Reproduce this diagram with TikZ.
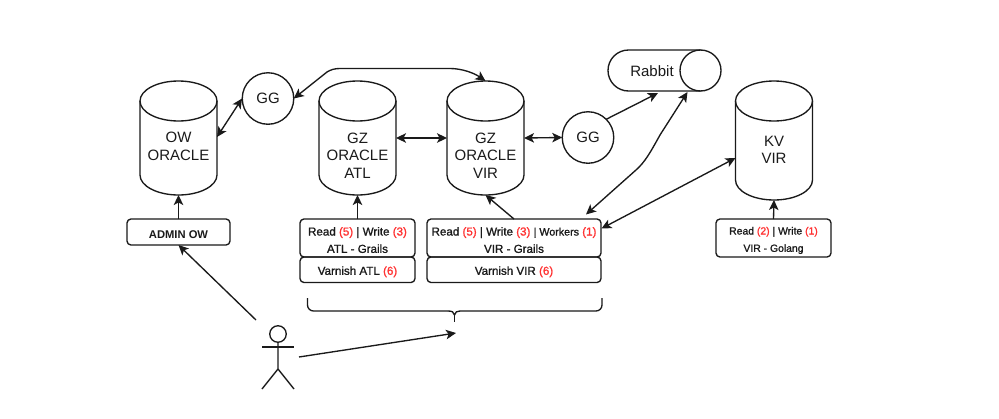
\documentclass[tikz,border=0pt]{standalone}
\usepackage{fontspec}
\setmainfont{Liberation Sans}
\usetikzlibrary{arrows.meta,calc}
\definecolor{ink}{HTML}{1A1A1A}
\definecolor{cnt}{HTML}{FF3333}
\newcommand{\cn}[1]{\textcolor{cnt}{#1}}
\newcommand{\lft}{\rule{0pt}{12.5pt}}
\tikzset{
  every path/.style={line width=1.35pt,color=ink},
  tip/.style={-{Stealth[length=10pt,width=9.5pt,inset=2.5pt]}},
  both/.style={{Stealth[length=10pt,width=9.5pt,inset=2.5pt]}-{Stealth[length=10pt,width=9.5pt,inset=2.5pt]}},
  anchorbox/.style={rectangle,inner sep=0pt,outer sep=0pt,minimum width=77pt},
  biglabel/.style={inner sep=0pt,align=center,text=ink,font=\fontsize{15}{17.5}\selectfont},
  circ/.style={draw,circle,inner sep=0pt,outer sep=0pt,minimum size=51.5pt,text=ink,font=\fontsize{15}{17.5}\selectfont},
  appbox/.style={draw,rectangle,rounded corners=4pt,inner sep=0pt,outer sep=0pt,align=center,text=ink,font=\fontsize{11.6}{17.3}\selectfont\addfontfeature{FakeBold=1.2}},
}
% cylinder outline: #1 name, #2 centre x, #3 top y, #4 bottom y
\newcommand{\dbcyl}[4]{%
  \node[anchorbox,minimum height={#4-#3}] (#1) at (#2,{(#3+#4)/2}) {};
  \draw (#2-38.5,#3+20) arc[start angle=180,end angle=-180,x radius=38.5pt,y radius=20pt];
  \draw (#2-38.5,#3+20) -- (#2-38.5,#4-20) arc[start angle=180,end angle=360,x radius=38.5pt,y radius=20pt] -- (#2+38.5,#3+20);
}
\begin{document}
\begin{tikzpicture}[x=1pt,y=-1pt]
\useasboundingbox (0,0) rectangle (999,418);
\fill[white] (0,0) rectangle (999,418);

\dbcyl{ow}{178.5}{81}{195}
\dbcyl{gza}{357.5}{81}{195}
\dbcyl{gzv}{485.5}{81}{195}
\dbcyl{kv}{774}{81}{200}
\node[biglabel] (owl) at (178.5,146.5) {OW\\ORACLE};
\node[biglabel] (gzal) at (357.5,155.5) {GZ\\ORACLE\\ATL};
\node[biglabel] (gzvl) at (485.5,155.5) {GZ\\ORACLE\\VIR};
\node[biglabel] (kvl) at (774,150) {KV\\VIR};

\node[circ] (gga) at (268,98.5) {GG};
\node[circ] (ggb) at (588,137.5) {GG};

% Rabbit
\node[rectangle,inner sep=0pt,outer sep=0pt,minimum width=113pt,minimum height=41pt] (rabbit) at (664.5,70.5) {};
\draw (700.5,50) -- (628.5,50) arc[start angle=90,end angle=270,x radius=20.5pt,y radius=20.5pt] -- (700.5,91);
\draw (700.5,50) arc[start angle=90,end angle=450,x radius=20.5pt,y radius=20.5pt];
\node[biglabel] (rabbitl) at (652,71.5) {Rabbit};

% boxes
\node[appbox,minimum width=103pt,minimum height=26pt,font=\fontsize{11.2}{17.3}\selectfont\bfseries] (admin) at (178.5,232) {\lft ADMIN OW};
\node[appbox,minimum width=115pt,minimum height=38pt] (atl) at (357.5,238) {\lft Read \cn{(5)} | Write \cn{(3)}\\ATL - Grails};
\node[appbox,minimum width=115pt,minimum height=25.5pt] (vatl) at (357.5,269.75) {\lft Varnish ATL \cn{(6)}};
\node[appbox,minimum width=174pt,minimum height=38pt] (vir) at (514,238) {\lft Read \cn{(5)} | Write \cn{(3)} {\fontsize{10.7}{17.3}\selectfont\addfontfeature{FakeBold=1.2}| Workers} \cn{(1)}\\VIR - Grails};
\node[appbox,minimum width=174pt,minimum height=25.5pt] (vvir) at (514,269.75) {\lft Varnish VIR \cn{(6)}};
\node[appbox,minimum width=115pt,minimum height=38pt,font=\fontsize{10.4}{17.3}\selectfont\addfontfeature{FakeBold=1.2}] (kvb) at (773.5,238) {\lft Read \cn{(2)} | Write \cn{(1)}\\VIR - Golang};

% brace
\draw[rounded corners=6pt] (307.5,298) -- (307.5,311) -- (448,311);
\draw[rounded corners=6pt] (602,298) -- (602,311) -- (460,311);
\draw (448,311) .. controls (452,311) and (454,312) .. (454.5,315) .. controls (455,312) and (457,311) .. (460,311);
\draw (454.5,315) -- (454.5,322);
\coordinate (bracearrow) at (456,333);

% actor
\node[draw,circle,inner sep=0pt,outer sep=0pt,minimum size=16.5pt] (head) at (278,334) {};
\draw (262,347) -- (294,347);
\draw (head.south) -- (278,369) -- (262,389);
\draw (278,369) -- (294,389);
\coordinate (actora) at (256,320);
\coordinate (actorb) at (299,357);

% connectors
\draw[tip] (admin.north) -- (ow.south);
\draw[tip] (atl.north) -- (gza.south);
\draw[tip] (vir.north) -- (gzv.south);
\draw[tip] (kvb.north) -- (kv.south);
\draw[both] ([yshift=1pt]ow.east) -- ([xshift=-0.2pt]gga.west);
\draw[both] (gza.east) -- (gzv.west);
\draw[both] (gzv.east) -- (ggb.west);
\draw[both] (gga.east) -- (327,72) .. controls (331,69.5) and (335,68.5) .. (340,68.5) -- (450,68.5) .. controls (462,68.5) and (474,73) .. (gzv.north);
\draw[tip] (ggb.north east) ++(0,0) -- (658,93);
\draw[both] (687.5,92) -- (660,135) .. controls (650,153) and (645,162) .. (636,170) -- (586,214.5);
\draw[both] (601.5,228.5) -- ([yshift=-17.5pt]kv.west);
\draw[tip] (actora) -- (admin.south);
\draw[tip] (actorb) -- (bracearrow);
\end{tikzpicture}
\end{document}
